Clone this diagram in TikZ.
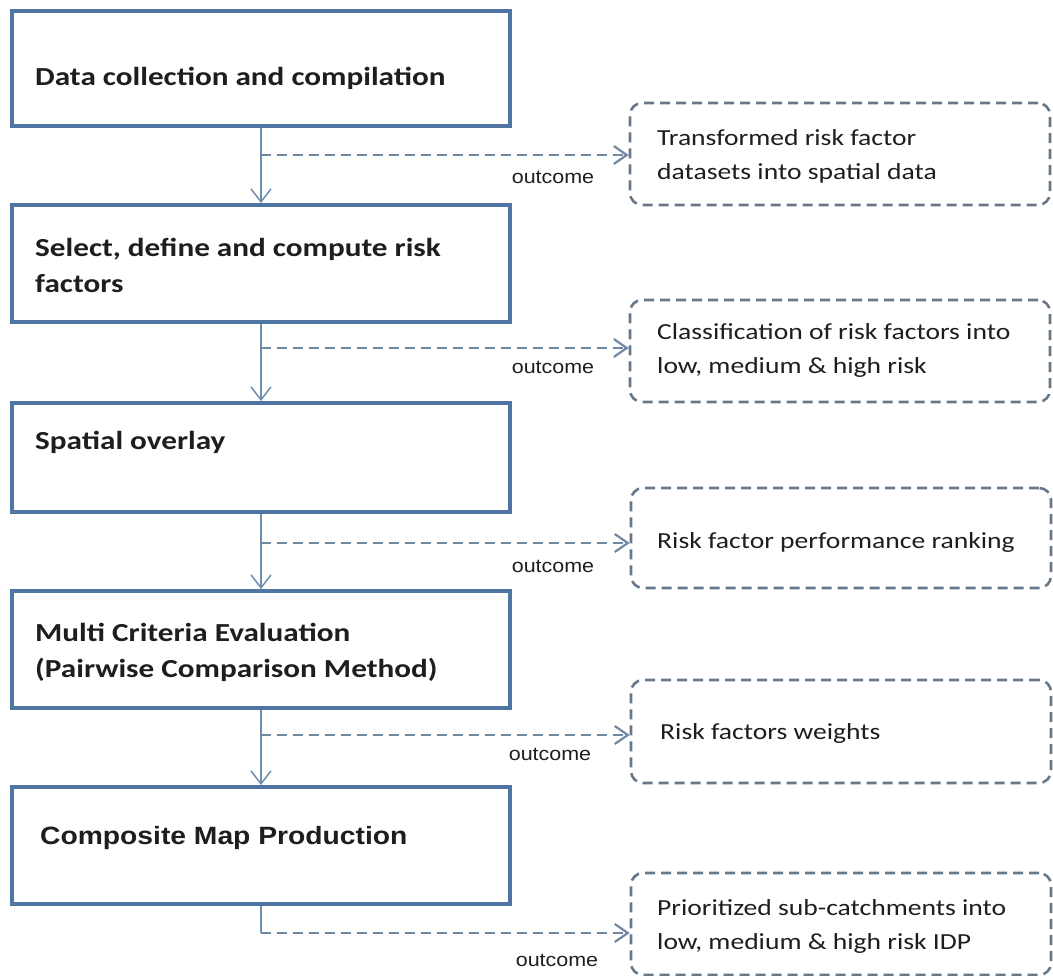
\documentclass[tikz,border=0pt]{standalone}
\usepackage{fontspec}
\setmainfont[FakeStretch=1.2]{Carlito}
\newfontfamily\arialf[FakeStretch=1.13]{Liberation Sans}
\usetikzlibrary{arrows.meta}
\definecolor{boxblue}{HTML}{4F76A3}
\definecolor{linkblue}{HTML}{6F8FB0}
\definecolor{dashgray}{HTML}{66778A}
\definecolor{dashlink}{HTML}{7088A2}
\definecolor{txt}{HTML}{1E1E1E}
\begin{document}
\begin{tikzpicture}[x=1pt,y=-1pt,
  mainbox/.style={draw=boxblue, line width=3.8pt, fill=white, minimum width=498pt, inner sep=0pt},
  outbox/.style={draw=dashgray, line width=2.6pt, dash pattern=on 10pt off 6pt, rounded corners=12pt, minimum width=420pt, inner sep=0pt},
  boxtext/.style={anchor=west, align=left, inner sep=0pt, text=txt, font=\fontsize{26}{36}\selectfont\bfseries},
  outtext/.style={anchor=west, align=left, inner sep=0pt, text=txt, font=\fontsize{23}{34}\selectfont},
  outlabel/.style={inner sep=0pt, text=txt, font=\arialf\fontsize{19}{22}\selectfont},
  conn/.style={draw=linkblue, line width=1.5pt, -{Straight Barb[length=13pt,width=20pt]}},
  plainconn/.style={draw=linkblue, line width=1.5pt},
  dconn/.style={draw=dashlink, line width=2.2pt, dash pattern=on 10pt off 6pt, -{Straight Barb[length=13pt,width=18pt]}}
]
\fill[white] (0,0) rectangle (1053,976);
\useasboundingbox (0,0) rectangle (1053,976);

% main boxes
\node[mainbox, minimum height=115pt] (b1) at (261,68.5) {};
\node[mainbox, minimum height=117pt] (b2) at (261,263.5) {};
\node[mainbox, minimum height=109pt] (b3) at (261,457.5) {};
\node[mainbox, minimum height=117pt] (b4) at (261,649.5) {};
\node[mainbox, minimum height=117pt] (b5) at (261,845.5) {};

\node[boxtext] (t1) at (35,78) {Data collection and compilation};
\node[boxtext] (t2) at (35,265) {Select, define and compute risk\\factors};
\node[boxtext] (t3) at (35,442) {Spatial overlay};
\node[boxtext] (t4) at (35,652.5) {Multi Criteria Evaluation\\(Pairwise Comparison Method)};
\node[boxtext, font=\arialf\fontsize{25}{30}\selectfont\bfseries] (t5) at (40,838) {Composite Map Production};

% outcome boxes
\node[outbox, minimum height=102pt] (d1) at (840,154) {};
\node[outbox, minimum height=102pt] (d2) at (840,351) {};
\node[outbox, minimum height=100pt] (d3) at (841,538) {};
\node[outbox, minimum height=103pt] (d4) at (841,731.5) {};
\node[outbox, minimum height=102pt] (d5) at (841,924) {};

\node[outtext] (u1) at (657,156.5) {Transformed risk factor\\datasets into spatial data};
\node[outtext] (u2) at (657,350.5) {Classification of risk factors into\\low, medium \& high risk};
\node[outtext] (u3) at (657,542) {Risk factor performance ranking};
\node[outtext] (u4) at (660,733) {Risk factors weights};
\node[outtext] (u5) at (657,926.5) {Prioritized sub-catchments into\\low, medium \& high risk IDP};

% main flow
\draw[conn] (b1.south) -- (b2.north);
\draw[conn] (b2.south) -- (b3.north);
\draw[conn] (b3.south) -- (b4.north);
\draw[conn] (b4.south) -- (b5.north);

% branch points
\coordinate (o1) at (261,155);
\coordinate (o2) at (261,348);
\coordinate (o3) at (261,543);
\coordinate (o4) at (261,735);
\coordinate (o5) at (261,933);
\draw[plainconn] (b5.south) -- (o5);

\draw[dconn] (o1) -- (o1 -| d1.west);
\draw[dconn] (o2) -- (o2 -| d2.west);
\draw[dconn] (o3) -- (o3 -| d3.west);
\draw[dconn] (o4) -- (o4 -| d4.west);
\draw[dconn] (o5) -- (o5 -| d5.west);

\node[outlabel] (l1) at (553,177) {outcome};
\node[outlabel] (l2) at (553,367) {outcome};
\node[outlabel] (l3) at (553,566) {outcome};
\node[outlabel] (l4) at (550,754) {outcome};
\node[outlabel] (l5) at (557,960) {outcome};
\end{tikzpicture}
\end{document}
